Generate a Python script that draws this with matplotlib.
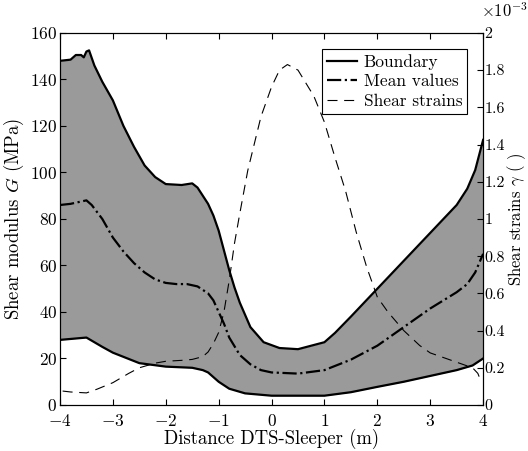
import matplotlib
matplotlib.use("Agg")
import matplotlib.pyplot as plt

plt.rcParams['font.family'] = 'serif'
plt.rcParams['font.serif'] = ['cmr10']
plt.rcParams['mathtext.fontset'] = 'cm'
plt.rcParams['axes.formatter.use_mathtext'] = True
plt.rcParams['axes.unicode_minus'] = True

# boundaries and mean of the shear modulus (MPa)
x_up = [-4.0, -3.8, -3.7, -3.6, -3.55, -3.5, -3.45, -3.35, -3.2, -3.0, -2.8, -2.6,
        -2.4, -2.2, -2.0, -1.7, -1.5, -1.4, -1.3, -1.2, -1.1, -1.0, -0.9, -0.8, -0.7,
        -0.6, -0.4, -0.15, 0.15, 0.5, 1.0, 1.2, 1.5, 2.0, 2.5, 3.0, 3.5, 3.7, 3.85, 4.0]
g_up = [148, 148.5, 150.5, 150.5, 149.5, 152, 152.5, 146, 139, 131, 120, 111,
        103, 98, 95, 94.6, 95.3, 93.5, 90, 86.5, 81.5, 75, 66.5, 58, 50.5,
        44, 33.5, 27, 24.5, 24, 27, 31, 38, 50, 62, 74, 86, 93, 101, 114]

x_lo = [-4.0, -3.5, -3.2, -3.0, -2.5, -2.0, -1.5, -1.3, -1.2, -1.0, -0.8, -0.5,
        0.0, 1.0, 1.5, 2.0, 2.5, 3.0, 3.5, 3.8, 4.0]
g_lo = [28, 29, 25, 22.5, 18, 16.5, 16, 15, 14, 10, 7, 5,
        4, 4, 5.5, 7.8, 10, 12.5, 15, 17, 20]

x_mean = [-4.0, -3.8, -3.6, -3.5, -3.4, -3.2, -3.0, -2.8, -2.6, -2.4, -2.2, -2.0,
          -1.8, -1.6, -1.4, -1.2, -1.1, -1.0, -0.9, -0.8, -0.6, -0.4, -0.2, 0.0,
          0.5, 1.0, 1.5, 2.0, 2.5, 3.0, 3.5, 3.7, 3.85, 4.0]
g_mean = [86, 86.5, 87.5, 88, 86, 80, 72, 66, 61, 57, 54, 52.5,
          52, 52, 51, 48, 45, 40, 35, 29, 21.5, 17.5, 15, 14,
          13.5, 15, 19.5, 25.5, 33.5, 41.5, 48.5, 52, 57, 65]

# shear strains (x 1e-3)
x_gam = [-3.95, -3.8, -3.5, -3.3, -3.0, -2.7, -2.5, -2.2, -2.0, -1.7, -1.5, -1.3,
         -1.2, -1.1, -1.0, -0.9, -0.8, -0.7, -0.6, -0.45, -0.2, 0.0, 0.15, 0.3,
         0.5, 0.8, 1.0, 1.2, 1.4, 1.6, 1.8, 2.0, 2.2, 2.5, 2.8, 3.0, 3.3, 3.5,
         3.7, 3.8, 3.9, 3.97]
gam = [0.075, 0.07, 0.065, 0.085, 0.12, 0.17, 0.2, 0.225, 0.235, 0.24, 0.245, 0.26,
       0.285, 0.33, 0.39, 0.5, 0.67, 0.87, 1.03, 1.26, 1.55, 1.71, 1.8, 1.83,
       1.8, 1.66, 1.52, 1.33, 1.15, 0.93, 0.74, 0.58, 0.5, 0.4, 0.32, 0.28, 0.25, 0.23,
       0.21, 0.2, 0.17, 0.12]

fig = plt.figure(figsize=(5.28, 4.51), dpi=100)
ax = fig.add_axes([0.1136, 0.102, 0.8014, 0.825])
ax2 = ax.twinx()

ax.fill_between(x_up, g_up, color='#9a9a9a', lw=0)
ax.fill_between(x_lo, g_lo, color='white', lw=0)
ax.plot(x_up, g_up, color='k', lw=1.6)
ax.plot(x_lo, g_lo, color='k', lw=1.6)
ax.plot(x_mean, g_mean, color='k', lw=1.6, ls='-.')
ax2.plot(x_gam, gam, color='k', lw=0.8, ls=(0, (9, 6)))

ax.set_xlim(-4, 4)
ax.set_ylim(0, 160)
ax.set_xticks(range(-4, 5))
ax.set_yticks(range(0, 161, 20))
ax2.set_ylim(0, 2)
ax2.set_yticks([0, 0.2, 0.4, 0.6, 0.8, 1, 1.2, 1.4, 1.6, 1.8, 2])
ax2.set_yticklabels(['0', '0.2', '0.4', '0.6', '0.8', '1', '1.2', '1.4', '1.6', '1.8', '2'])
ax2.text(0.995, 1.035, r'$\times10^{-3}$', transform=ax2.transAxes, fontsize=12,
         ha='left', va='bottom')

ax.tick_params(direction='in', top=True, right=False, labelsize=12.5, length=4)
ax.tick_params(axis='y', pad=2)
ax.tick_params(axis='x', pad=6)
ax2.tick_params(direction='in', labelsize=11.5, length=4, pad=1)

ax.set_xlabel('Distance DTS-Sleeper (m)', fontsize=13.5, labelpad=0)
ax.set_ylabel('Shear modulus $G$ (MPa)', fontsize=13.5, labelpad=3)
ax2.set_ylabel(r'Shear strains $\gamma$ ( )', fontsize=12, labelpad=0.5)

h1, = ax.plot([], [], color='k', lw=1.6, label='Boundary')
h2, = ax.plot([], [], color='k', lw=1.6, ls='-.', label='Mean values')
h3, = ax.plot([], [], color='k', lw=0.8, ls=(0, (9, 6)), label='Shear strains')
leg = ax2.legend(handles=[h1, h2, h3], loc='upper right', fontsize=12.5,
                 fancybox=False, edgecolor='k', framealpha=1,
                 borderaxespad=0.9, handlelength=1.7, labelspacing=0.25,
                 borderpad=0.3, handletextpad=0.4)
leg.get_frame().set_linewidth(0.8)

for a in (ax, ax2):
    for s in a.spines.values():
        s.set_linewidth(0.8)

fig.savefig('out.png', dpi=100)
